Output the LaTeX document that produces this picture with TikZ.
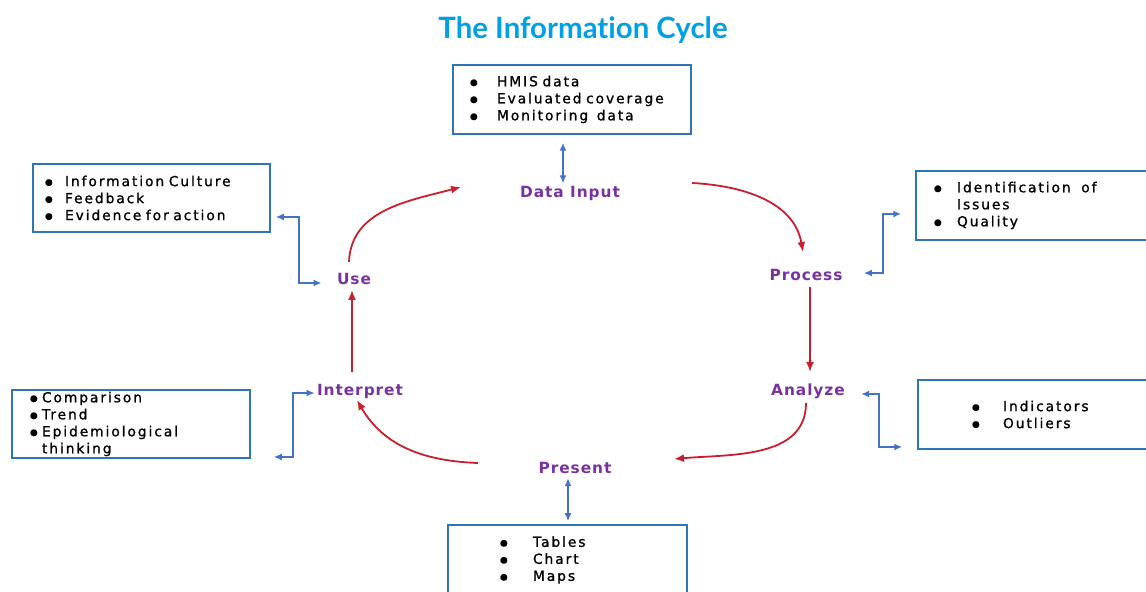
\documentclass[tikz,border=0pt]{standalone}
\usepackage{fontspec}
\setmainfont{DejaVu Sans}
\newfontfamily\titlefont[Ligatures=NoCommon]{Lato}
\newfontfamily\listfont[LetterSpace=14,FakeBold=1.2]{DejaVu Sans}
\newfontfamily\stagefont[LetterSpace=6]{DejaVu Sans}
\usetikzlibrary{arrows.meta,calc}
\definecolor{titleblue}{RGB}{0,160,226}
\definecolor{boxblue}{RGB}{46,117,182}
\definecolor{linkblue}{RGB}{68,114,196}
\definecolor{cyclered}{RGB}{200,30,45}
\definecolor{stagepurple}{RGB}{120,50,160}
\newcommand{\bitem}[2]{\makebox[#1][l]{\raisebox{0.6pt}{\fontsize{4.4}{4.4}\selectfont ●}}#2}
\newcommand{\listsetup}{\listfont\fontsize{6.9}{8.5}\selectfont\spaceskip=3.6pt plus 1pt\relax}
\begin{document}
\begin{tikzpicture}[x=0.5pt,y=0.5pt]
	\tikzstyle{stage}=[font=\stagefont\bfseries\fontsize{7.7}{8}\selectfont,text=stagepurple,inner sep=1pt]
	\tikzstyle{infobox}=[draw=boxblue,line width=0.75pt,inner ysep=0pt,align=left,font=\listsetup]
	\tikzstyle{cyclearrow}=[draw=cyclered,line width=0.9pt,-{Latex[length=5pt,width=4pt]}]
	\tikzstyle{linkarrow}=[draw=linkblue,line width=1pt,{Latex[length=4pt,width=3.5pt]}-{Latex[length=4pt,width=3.5pt]}]
	\useasboundingbox (0,0) rectangle (1146,592);
	\clip (0,0) rectangle (1146,592);
	\begin{scope}
		\node[font=\titlefont\bfseries\fontsize{14.7}{16}\selectfont,text=titleblue] (title) at (583,562) {The Information Cycle};

		\node[infobox,text width=102pt,inner xsep=8.5pt,minimum height=34.5pt] (inputbox) at (572,492.5)
			{\bitem{13.5pt}{HMIS data}\\ \bitem{13.5pt}{Evaluated coverage}\\ \bitem{13.5pt}{Monitoring\hspace{2pt} data}};
		\node[infobox,text width=106.5pt,inner xsep=6pt,minimum height=34pt] (usebox) at (151.5,394)
			{\bitem{10pt}{Information Culture}\\ \bitem{10pt}{Feedback}\\ \bitem{10pt}{Evidence for action}};
		\node[infobox,text width=99pt,inner xsep=9pt,minimum height=34.5pt] (processbox) at (1033,386.5)
			{\bitem{11.5pt}{Identification\hspace{3pt} of}\\ \hspace*{11.5pt}Issues\\ \bitem{11.5pt}{Quality}};
		\node[infobox,text width=101pt,inner xsep=9pt,minimum height=34pt] (interpretbox) at (131,168)
			{\bitem{6pt}{Comparison}\\ \bitem{6pt}{Trend}\\ \bitem{6pt}{Epidemiological}\\ \hspace*{6pt}thinking};
		\node[infobox,text width=62pt,inner xsep=27pt,minimum height=34.5pt] (analyzebox) at (1034,177.5)
			{\bitem{15.5pt}{Indicators}\\ \bitem{15.5pt}{Outliers}};
		\node[infobox,text width=67.5pt,inner xsep=26pt,minimum height=35pt] (presentbox) at (567.5,32)
			{\bitem{16.5pt}{Tables}\\ \bitem{16.5pt}{Chart}\\ \bitem{16.5pt}{Maps}};

		\node[stage] (datainput) at (570,398) {Data Input};
		\node[stage] (process) at (806,317) {Process};
		\node[stage] (analyze) at (808,201) {Analyze};
		\node[stage] (present) at (575,124) {Present};
		\node[stage] (interpret) at (360,201) {Interpret};
		\node[stage] (use) at (354,313) {Use};

		\path[cyclearrow] ($(use)+(-5,17)$) to[out=88,in=195] ($(datainput)+(-109,7)$);
		\path[cyclearrow] ($(datainput)+(122,11)$) to[out=-3,in=100] ($(process)+(-3,23)$);
		\path[cyclearrow] ($(process)+(4,-12)$) -- ($(analyze)+(2,19)$);
		\path[cyclearrow] ($(analyze)+(-2,-12)$) to[out=-90,in=5] ($(present)+(99,9)$);
		\path[cyclearrow] ($(present)+(-97,5)$) to[out=178,in=-60] ($(interpret)+(-3,-9)$);
		\path[cyclearrow] ($(interpret)+(-8,19)$) -- ($(use)+(-2,-11)$);

		\path[linkarrow] ($(inputbox.south)+(-9,-8)$) -- ($(datainput.north)+(-7,1)$);
		\path[linkarrow] ($(usebox.east)+(5,-19)$) -- ++(23,0) |- ($(use.west)+(-13,-4)$);
		\path[linkarrow] ($(process.east)+(19,2)$) -- ++(19,0) |- ($(processbox.west)+(-14,-8.5)$);
		\path[linkarrow] ($(interpret.west)+(0,-2)$) -- ++(-22,0) |- ($(interpretbox.east)+(23,-33)$);
		\path[linkarrow] ($(analyze.east)+(14,-3)$) -- ++(18,0) |- ($(analyzebox.west)+(-15,-32.5)$);
		\path[linkarrow] ($(present.south)+(-7,-2)$) -- ($(presentbox.north)+(0.5,3)$);
	\end{scope}
\end{tikzpicture}
\end{document}
